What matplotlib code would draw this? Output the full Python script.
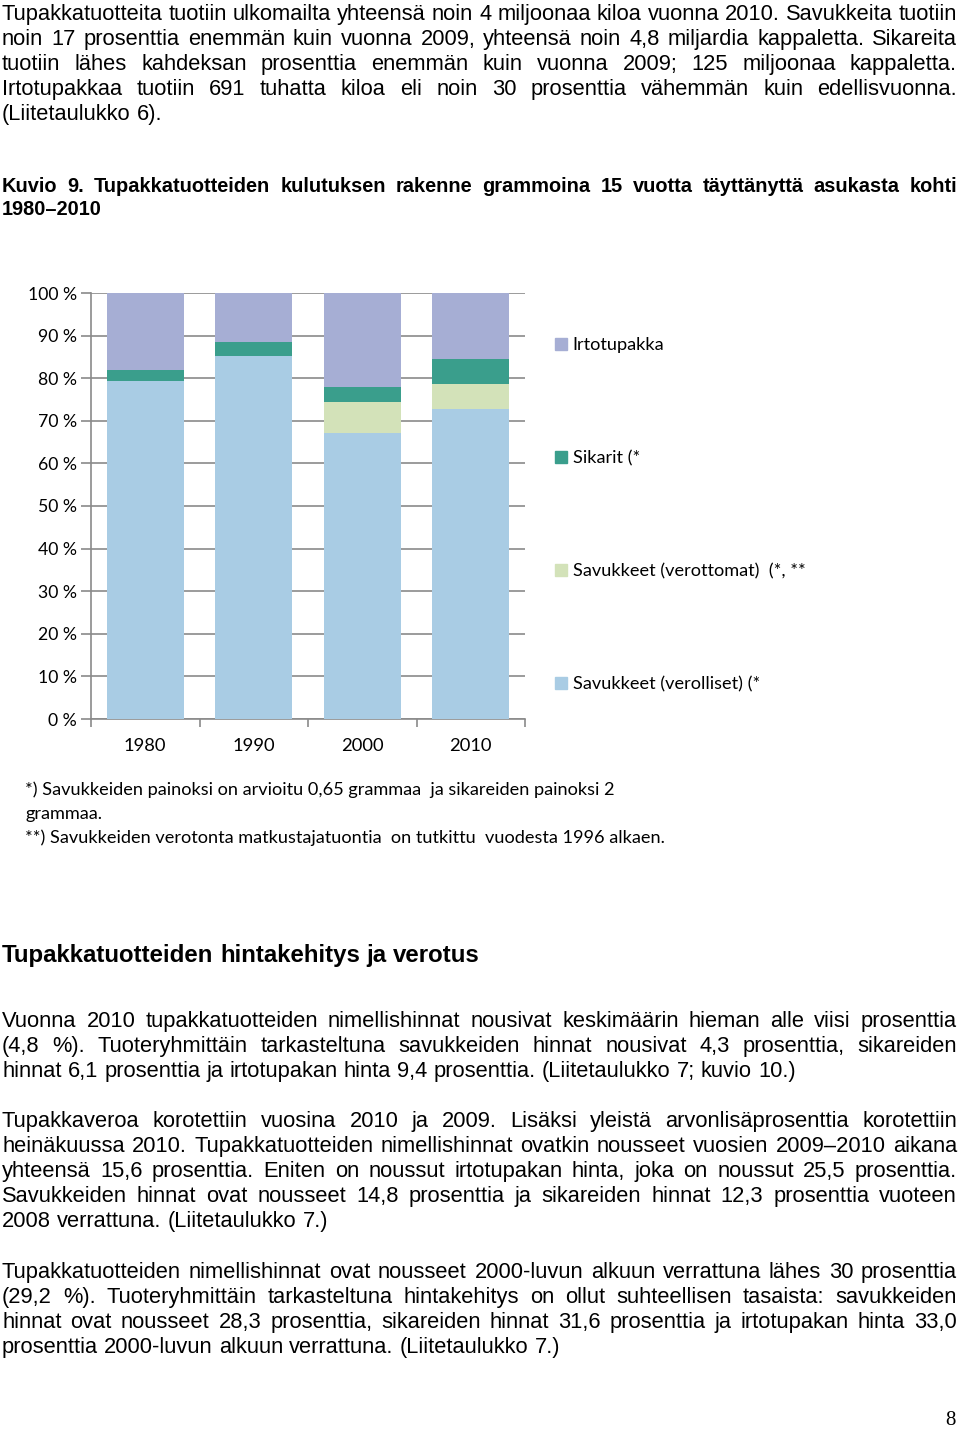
import matplotlib
matplotlib.use('Agg')
import matplotlib.pyplot as plt
from matplotlib.patches import Patch

# chart data (share of consumption, %)
years = ['1980', '1990', '2000', '2010']
savukkeet_verolliset = [79.4, 85.3, 67.2, 72.7]
savukkeet_verottomat = [0.0, 0.0, 7.3, 6.0]
sikarit = [2.5, 3.2, 3.5, 5.7]
irtotupakka = [18.1, 11.5, 22.0, 15.6]

series_names = ['Savukkeet (verolliset) (*', 'Savukkeet (verottomat)  (*, **',
                'Sikarit (*', 'Irtotupakka']
series_colors = ['#a9cce4', '#d3e2b9', '#3a9e8c', '#a6aed4']

y_ticks = [0, 10, 20, 30, 40, 50, 60, 70, 80, 90, 100]
y_tick_labels = [f'{v} %' for v in y_ticks]

# page text, one entry per printed line
para1 = [
    "Tupakkatuotteita tuotiin ulkomailta yhteensä noin 4 miljoonaa kiloa vuonna 2010. Savukkeita tuotiin",
    "noin 17 prosenttia enemmän kuin vuonna 2009, yhteensä noin 4,8 miljardia kappaletta. Sikareita",
    "tuotiin lähes kahdeksan prosenttia enemmän kuin vuonna 2009; 125 miljoonaa kappaletta.",
    "Irtotupakkaa tuotiin 691 tuhatta kiloa eli noin 30 prosenttia vähemmän kuin edellisvuonna.",
    "(Liitetaulukko 6).",
]
caption = [
    "Kuvio 9. Tupakkatuotteiden kulutuksen rakenne grammoina 15 vuotta täyttänyttä asukasta kohti",
    "1980–2010",
]
footnotes = [
    "*) Savukkeiden painoksi on arvioitu 0,65 grammaa  ja sikareiden painoksi 2",
    "grammaa.",
    "**) Savukkeiden verotonta matkustajatuontia  on tutkittu  vuodesta 1996 alkaen.",
]
heading = "Tupakkatuotteiden hintakehitys ja verotus"
para2 = [
    "Vuonna 2010 tupakkatuotteiden nimellishinnat nousivat keskimäärin hieman alle viisi prosenttia",
    "(4,8 %). Tuoteryhmittäin tarkasteltuna savukkeiden hinnat nousivat 4,3 prosenttia, sikareiden",
    "hinnat 6,1 prosenttia ja irtotupakan hinta 9,4 prosenttia. (Liitetaulukko 7; kuvio 10.)",
]
para3 = [
    "Tupakkaveroa korotettiin vuosina 2010 ja 2009. Lisäksi yleistä arvonlisäprosenttia korotettiin",
    "heinäkuussa 2010. Tupakkatuotteiden nimellishinnat ovatkin nousseet vuosien 2009–2010 aikana",
    "yhteensä 15,6 prosenttia. Eniten on noussut irtotupakan hinta, joka on noussut 25,5 prosenttia.",
    "Savukkeiden hinnat ovat nousseet 14,8 prosenttia ja sikareiden hinnat 12,3 prosenttia vuoteen",
    "2008 verrattuna. (Liitetaulukko 7.)",
]
para4 = [
    "Tupakkatuotteiden nimellishinnat ovat nousseet 2000-luvun alkuun verrattuna lähes 30 prosenttia",
    "(29,2 %). Tuoteryhmittäin tarkasteltuna hintakehitys on ollut suhteellisen tasaista: savukkeiden",
    "hinnat ovat nousseet 28,3 prosenttia, sikareiden hinnat 31,6 prosenttia ja irtotupakan hinta 33,0",
    "prosenttia 2000-luvun alkuun verrattuna. (Liitetaulukko 7.)",
]

W, H = 960, 1429
BODY = 'Liberation Sans'
CHART = 'Lato'
GRID = '#8a8a8a'

fig = plt.figure(figsize=(W / 100, H / 100), dpi=100)
renderer = fig.canvas.get_renderer()


def px(x, y):
    return x / W, 1 - y / H


def text_width(t):
    return t.get_window_extent(renderer).width


def put_line(line, y, x0=2, x1=957, size=14, weight='normal', justify=True, family=BODY):
    """Place one line word by word, spreading words to fill x0..x1."""
    words = line.split()
    while True:
        items = [fig.text(0, 0, w, fontsize=size, fontweight=weight, family=family, va='baseline')
                 for w in words]
        widths = [text_width(t) for t in items]
        probe = fig.text(0, 0, 'a a', fontsize=size, fontweight=weight, family=family)
        probe2 = fig.text(0, 0, 'aa', fontsize=size, fontweight=weight, family=family)
        space = text_width(probe) - text_width(probe2)
        probe.remove()
        probe2.remove()
        gap = space
        if justify and len(words) > 1:
            gap = (x1 - x0 - sum(widths)) / (len(words) - 1)
        if gap >= 0.8 * space:
            break
        # too wide for the line: shrink a bit and try again
        for t in items:
            t.remove()
        size *= 0.97
    x = x0
    for t, w in zip(items, widths):
        t.set_position(px(x, y))
        x += w + gap


def put_block(lines, y0, step=25, justify_last=False, **kw):
    for i, line in enumerate(lines):
        last = i == len(lines) - 1
        put_line(line, y0 + i * step, justify=(not last) or justify_last, **kw)


put_block(para1, 20, size=15.75)
put_block(caption, 192, step=23, size=14.4, weight='bold')
put_line(heading, 962, size=17.3, weight='bold', justify=False)
put_block(para2, 1027, size=15.75)
put_block(para3, 1127, size=15.75)
put_block(para4, 1278, size=15.75)
fig.text(*px(956, 1425), '8', fontsize=15, family='Liberation Serif', ha='right', va='baseline')

for i, line in enumerate(footnotes):
    fig.text(*px(25, 795 + i * 24), line, fontsize=13.1, family=CHART, va='baseline')

# chart
left, right, top, bottom = 91, 525, 293, 719
ax = fig.add_axes([left / W, 1 - bottom / H, (right - left) / W, (bottom - top) / H])

values = [savukkeet_verolliset, savukkeet_verottomat, sikarit, irtotupakka]
xs = range(len(years))
base = [0.0] * len(years)
for vals, color in zip(values, series_colors):
    ax.bar(xs, vals, bottom=base, width=0.71, color=color, zorder=3)
    base = [b + v for b, v in zip(base, vals)]

ax.set_xlim(-0.5, len(years) - 0.5)
ax.set_ylim(0, 100)
ax.set_yticks(y_ticks)
ax.set_yticklabels(y_tick_labels, fontsize=12.7, family=CHART)
ax.yaxis.grid(True, color=GRID, linewidth=1.2, zorder=0)
ax.set_axisbelow(True)

ax.set_xticks([i - 0.5 for i in range(len(years) + 1)])
ax.set_xticklabels([])
ax.set_xticks(list(xs), minor=True)
ax.set_xticklabels(years, minor=True, fontsize=13.2, family=CHART)
ax.tick_params(axis='x', which='minor', length=0, pad=14)
ax.tick_params(axis='x', which='major', length=6, color=GRID, width=1.2)
ax.tick_params(axis='y', length=7, color=GRID, width=1.2, pad=3)

for s in ['top', 'right']:
    ax.spines[s].set_visible(False)
for s in ['left', 'bottom']:
    ax.spines[s].set_color(GRID)
    ax.spines[s].set_linewidth(1.2)

handles = [Patch(color=c, label=n) for c, n in zip(series_colors, series_names)][::-1]
fig.legend(handles=handles, loc='upper left', bbox_to_anchor=px(548, 330),
           frameon=False, prop={'family': CHART, 'size': 13.1},
           handlelength=0.65, handleheight=0.65, handletextpad=0.3,
           labelspacing=5.33, borderaxespad=0)

fig.savefig('out.png', dpi=100)
